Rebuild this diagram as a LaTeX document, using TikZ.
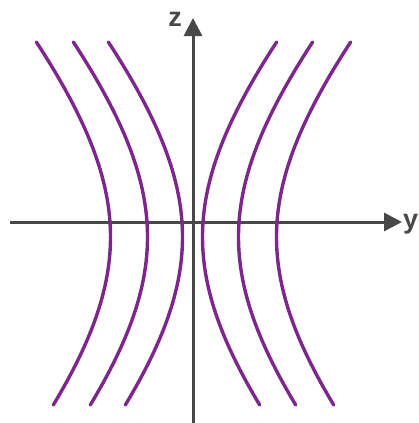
\documentclass[tikz,border=0pt]{standalone}
\usepackage{fontspec}
\setmainfont{Liberation Sans}
\usetikzlibrary{arrows.meta}
\definecolor{curvepurple}{RGB}{125,38,140}
\definecolor{axisgray}{RGB}{72,72,72}
\tikzset{
  axisline/.style={draw=axisgray, line width=3pt, -{Triangle[length=18pt,width=18pt]}},
  wave/.style={draw=curvepurple, line width=3.4pt, line cap=round, line join=round, smooth, samples=50},
  axislabel/.style={text=axisgray, font=\bfseries\fontsize{27}{27}\selectfont, inner sep=0pt}
}
\begin{document}
\begin{tikzpicture}[x=1pt,y=-1pt]
\useasboundingbox (0,0) rectangle (418,423);
\coordinate (zbot) at (193,425);
\coordinate (ztop) at (193,18);
\coordinate (yleft) at (10,222);
\coordinate (yright) at (402,222);
\draw[axisline] (zbot) -- (ztop);
\draw[axisline] (yleft) -- (yright);
\node[axislabel, anchor=base] (zlab) at (175,26) {z};
\node[axislabel, anchor=base west] (ylab) at (403,228) {y};
% left family (opening left)
\foreach \v in {110.5,147.5,182.5} {
  \draw[wave] plot[domain=-195:168] ({\v-187*(sqrt(1+(\x/200)^2)-1)}, {237+\x});
}
% right family (opening right)
\foreach \v in {202.5,238.5,276.5} {
  \draw[wave] plot[domain=-195:168] ({\v+187*(sqrt(1+(\x/200)^2)-1)}, {237+\x});
}
\end{tikzpicture}
\end{document}
